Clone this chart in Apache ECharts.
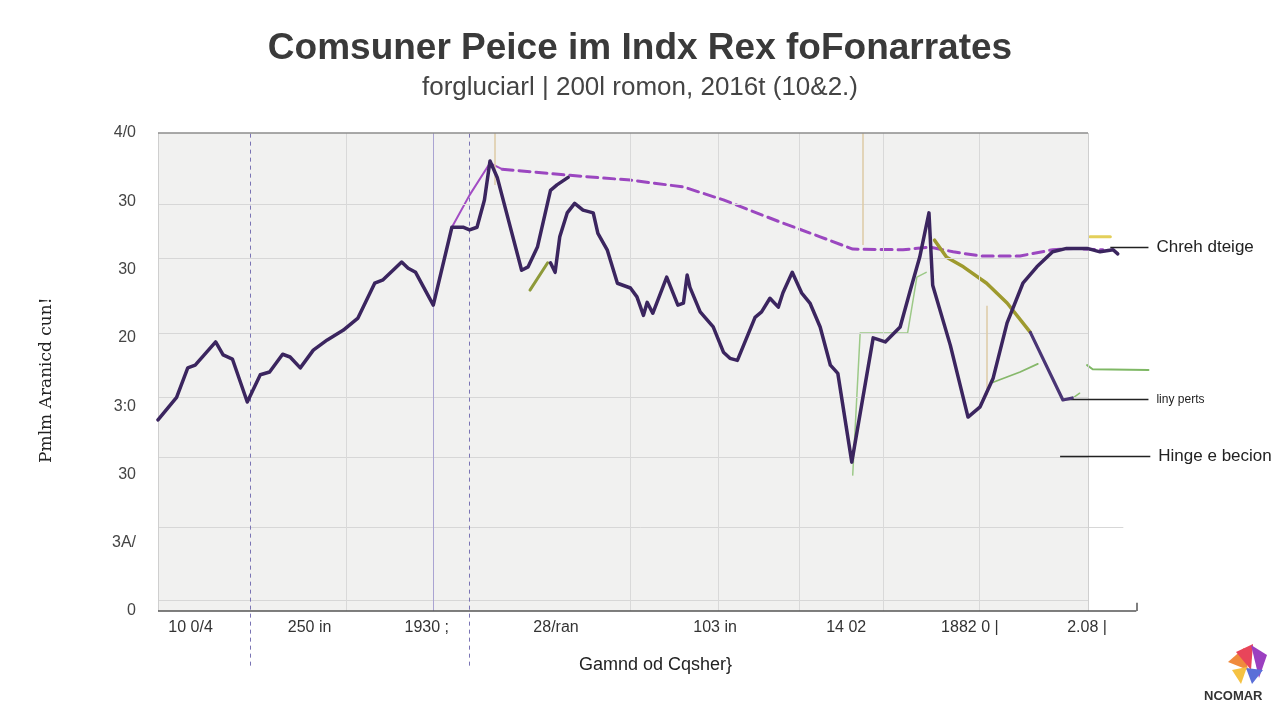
<!DOCTYPE html>
<html>
<head>
<meta charset="utf-8">
<script src="https://cdn.jsdelivr.net/npm/echarts@6/dist/echarts.min.js"></script>
<style>
html,body{margin:0;padding:0;background:#fff;}
#chart{width:1280px;height:720px;}
</style>
</head>
<body>
<div id="chart"></div>
<script>
// ---- texts ----
const titleText = 'Comsuner Peice im Indx Rex foFonarrates';
const subTitleText = 'forgluciarl | 200l romon, 2016t (10&2.)';
const xAxisName = 'Gamnd od Cqsher}';
const yAxisName = 'Pmlm Aranicd cun!';
// y tick labels, bottom (0) to top (7)
const yLabels = ['0', '3A/', '30', '3:0', '20', '30', '30', '4/0'];
// x tick labels and where they sit on the x scale
const xLabels = ['10 0/4', '250 in', '1930 ;', '28/ran', '103 in', '14 02', '1882 0 |', '2.08 |'];
const xLabelPos = [3.5, 16.3, 28.9, 42.8, 59.9, 74.0, 87.3, 99.9];

// ---- series values [x, y] ----
const mainA = [[0,2.80],[2.0,3.13],[3.2,3.56],[4.0,3.60],[6.2,3.94],[7.0,3.75],[8.0,3.69],[9.6,3.06],[11.0,3.46],[12.0,3.50],[13.4,3.76],[14.2,3.72],[15.3,3.56],[16.7,3.82],[18.2,3.97],[19.9,4.11],[21.5,4.29],[23.3,4.80],[24.2,4.85],[26.2,5.11],[26.9,5.02],[27.7,4.96],[29.6,4.48],[31.6,5.62],[32.8,5.62],[33.5,5.58],[34.3,5.62],[35.1,6.02],[35.7,6.59],[36.5,6.34],[39.1,4.99],[39.8,5.04],[40.8,5.33],[42.2,6.16],[42.9,6.24],[44.1,6.35]];
const mainB = [[42.2,5.10],[42.7,4.96],[43.2,5.48],[44.0,5.83],[44.8,5.97],[45.7,5.87],[46.8,5.83],[47.3,5.53],[48.3,5.29],[49.4,4.80],[50.8,4.73],[51.5,4.60],[52.2,4.33],[52.6,4.52],[53.2,4.36],[54.7,4.89],[55.9,4.48],[56.5,4.51],[56.9,4.92],[57.2,4.74],[58.3,4.38],[59.7,4.16],[60.8,3.79],[61.5,3.70],[62.3,3.67],[64.2,4.30],[64.9,4.38],[65.8,4.58],[66.7,4.45],[67.2,4.66],[68.2,4.96],[69.2,4.66],[70.1,4.51],[71.2,4.16],[72.3,3.60],[73.1,3.48],[74.6,2.18],[76.9,4.00],[78.2,3.94],[79.8,4.16],[80.9,4.70],[81.9,5.18],[82.9,5.83],[83.3,4.77],[85.2,3.89],[87.1,2.84],[88.4,2.99],[89.8,3.41],[91.3,4.22],[93.0,4.80],[94.5,5.04],[96.2,5.26],[97.7,5.31],[99.9,5.31],[101.3,5.26],[102.7,5.29],[103.2,5.23]];
const darkC = [[93.8,4.08],[97.3,3.09],[98.3,3.12]];
const oliveLine = [[83.5,5.43],[84.8,5.18],[86.6,5.04],[89.1,4.80],[91.3,4.51],[93.8,4.08]];
const dashedTrend = [[37.0,6.47],[44.3,6.38],[50.8,6.31],[56.5,6.21],[60.8,6.02],[67.2,5.68],[71.2,5.48],[74.7,5.30],[80.1,5.29],[83.0,5.33],[85.5,5.26],[88.4,5.20],[92.7,5.20],[96.2,5.29],[98.4,5.31],[101.6,5.29]];
const magentaThin = [[31.6,5.62],[33.5,6.09],[35.7,6.56],[37.0,6.47]];
const green1 = [[74.7,1.99],[75.5,4.07],[80.6,4.07],[81.6,4.89],[82.6,4.96]];
const green2 = [[89.8,3.35],[92.7,3.50],[94.6,3.62]];
const green3 = [[99.9,3.60],[100.5,3.54],[106.5,3.53]];
const green4 = [[98.4,3.12],[99.1,3.19]];
const oliveShort = [[40.0,4.70],[41.9,5.10]];
const yellowShort = [[100.2,5.48],[102.4,5.48]];

// ---- grid / reference lines (in data units) ----
const hGrid = [5.96, 5.17, 4.07, 3.13, 2.25, 0.16];
const hGridLong = [1.22];
const vGrid = [20.2, 50.8, 60.2, 68.9, 78.0, 88.3];
const vPurple = [29.6];
const vDashed = [9.9, 33.5];
const tanLines = [[36.2,7,6.24],[75.8,7,5.36],[89.1,4.47,3.16]];
const annotations = [
  {text:'Chreh dteige', x1:102.4, x2:106.5, y:5.33, size:17},
  {text:'liny perts', x1:97.5, x2:106.5, y:3.10, size:12},
  {text:'Hinge e becion', x1:97.0, x2:106.7, y:2.27, size:17}
];

function seg(x1, y1, x2, y2, color, width, type) {
  return [{coord:[x1,y1], lineStyle:{color:color, width:width, type:type||'solid'}}, {coord:[x2,y2]}];
}

const frameLines = [];
hGrid.forEach(v => frameLines.push(seg(0, v, 100, v, '#d7d7d7', 1)));
hGridLong.forEach(v => frameLines.push(seg(0, v, 103.8, v, '#d7d7d7', 1)));
vGrid.forEach(u => frameLines.push(seg(u, 0, u, 7, '#d9d9d9', 1)));
vPurple.forEach(u => frameLines.push(seg(u, 0, u, 7, '#aaa4d2', 1)));
vDashed.forEach(u => frameLines.push(seg(u, -0.8, u, 7, '#7a74b4', 1, [4, 4])));
tanLines.forEach(t => frameLines.push(seg(t[0], t[1], t[0], t[2], '#dccaa6', 1.5)));
frameLines.push(seg(0, 0, 0, 7, '#cfcfcf', 1));
frameLines.push(seg(100, 0, 100, 7, '#cfcfcf', 1));
frameLines.push(seg(0, 7, 100, 7, '#8c8c8c', 1.5));
frameLines.push(seg(0, 0, 105.2, 0, '#555555', 1.5));
frameLines.push(seg(105.2, 0, 105.2, 0.12, '#555555', 1.5));

const annoLines = annotations.map(a => {
  const s = seg(a.x1, a.y, a.x2, a.y, '#222222', 1.3);
  s[0].label = {show:true, position:'end', distance:8, formatter:a.text, color:'#222', fontSize:a.size, fontFamily:'Liberation Sans, Arial, sans-serif'};
  return s;
});

function lineSeries(name, data, color, width, type, z) {
  return {
    name:name, type:'line', data:data, symbol:'none', z:z||3, silent:true,
    lineStyle:{color:color, width:width, type:type||'solid', cap:'round', join:'round'}
  };
}

const chart = echarts.init(document.getElementById('chart'), null, {renderer:'canvas'});
chart.setOption({
  animation:false,
  backgroundColor:'#ffffff',
  title:{
    text:titleText, subtext:subTitleText, left:'center', top:25, itemGap:8,
    textStyle:{fontSize:37, fontWeight:'bold', color:'#3a3a3a', fontFamily:'Liberation Sans, Arial, sans-serif'},
    subtextStyle:{fontSize:26, color:'#444', fontFamily:'Liberation Sans, Arial, sans-serif'}
  },
  grid:{left:158, right:126.9, top:133, bottom:40.7, containLabel:false, outerBoundsMode:'none'},
  xAxis:{
    type:'value', min:0, max:107, offset:-68.3,
    axisLine:{show:false},
    axisTick:{show:false},
    splitLine:{show:false},
    axisLabel:{
      customValues:xLabelPos,
      formatter:function(v){ const i = xLabelPos.indexOf(v); return i >= 0 ? xLabels[i] : ''; },
      color:'#333', fontSize:16, margin:9,
      fontFamily:'Liberation Sans Narrow, Liberation Sans, Arial, sans-serif'
    },
    name:xAxisName, nameLocation:'middle', nameGap:45,
    nameTextStyle:{fontSize:18, color:'#222', fontFamily:'Liberation Sans, Arial, sans-serif'}
  },
  yAxis:{
    type:'value', min:-1, max:7, interval:1,
    axisLine:{show:false}, axisTick:{show:false}, splitLine:{show:false},
    axisLabel:{
      formatter:function(v){ const i = Math.round(v); return i >= 0 ? yLabels[i] : ''; },
      color:'#444', fontSize:16, margin:22,
      fontFamily:'Liberation Sans, Arial, sans-serif'
    },
    name:yAxisName, nameLocation:'middle', nameGap:103, nameRotate:90,
    nameTextStyle:{fontSize:17, color:'#222', fontFamily:'DejaVu Serif, serif', padding:[0,0,0,52]}
  },
  series:[
    {
      name:'frame', type:'line', data:[[0,0]], symbol:'none', z:1, silent:true,
      lineStyle:{opacity:0},
      markArea:{silent:true, itemStyle:{color:'#f1f1f0'}, data:[[{coord:[0,0]},{coord:[100,7]}]]},
      markLine:{silent:true, symbol:['none','none'], label:{show:false}, data:frameLines}
    },
    lineSeries('green1', green1, '#9cc987', 1.5),
    lineSeries('green2', green2, '#86b86a', 1.8),
    lineSeries('green3', green3, '#7fb865', 2),
    lineSeries('green4', green4, '#8cc070', 1.5),
    lineSeries('oliveShort', oliveShort, '#8e9a3a', 3),
    lineSeries('yellowShort', yellowShort, '#e3cf5a', 3),
    lineSeries('dashedTrend', dashedTrend, '#9b47c0', 3, [11, 6], 4),
    lineSeries('magentaThin', magentaThin, '#a24cc4', 2, 'solid', 4),
    lineSeries('oliveLine', oliveLine, '#9e9a2e', 3.5, 'solid', 4),
    lineSeries('mainA', mainA, '#3b255f', 3.5, 'solid', 5),
    lineSeries('mainB', mainB, '#3b255f', 3.5, 'solid', 5),
    lineSeries('darkC', darkC, '#4a3575', 3.2, 'solid', 5),
    {
      name:'annotations', type:'line', data:[[0,0]], symbol:'none', z:6, silent:true,
      lineStyle:{opacity:0},
      markLine:{silent:true, symbol:['none','none'], label:{show:false}, data:annoLines}
    }
  ],
  graphic:[
    {type:'polygon', shape:{points:[[1228,662],[1244,648],[1248,670]]}, style:{fill:'#f08a3c'}},
    {type:'polygon', shape:{points:[[1236,652],[1253,644],[1251,670]]}, style:{fill:'#e8455a'}},
    {type:'polygon', shape:{points:[[1251,645],[1267,655],[1259,678]]}, style:{fill:'#9b3fc0'}},
    {type:'polygon', shape:{points:[[1246,668],[1263,670],[1252,684]]}, style:{fill:'#5a6fd8'}},
    {type:'polygon', shape:{points:[[1232,670],[1247,667],[1241,684]]}, style:{fill:'#f5c242'}},
    {type:'text', left:1204, top:690, style:{text:'NCOMAR', fill:'#333', font:'bold 13px Liberation Sans, Arial, sans-serif'}}
  ]
});
</script>
</body>
</html>
